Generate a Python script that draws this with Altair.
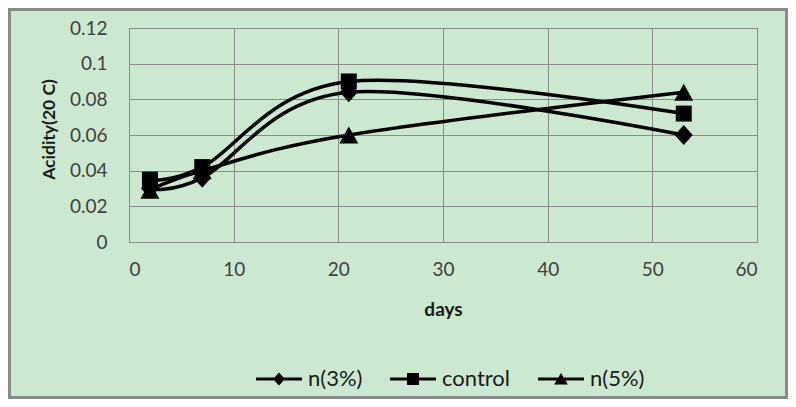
import altair as alt
import pandas as pd

# ---- data ----
days = [2, 7, 21, 53]
series_names = ["n(3%)", "control", "n(5%)"]
n3_values = [0.030, 0.036, 0.084, 0.060]
control_values = [0.035, 0.042, 0.090, 0.072]
n5_values = [0.029, 0.040, 0.060, 0.084]
x_ticks = [0, 10, 20, 30, 40, 50, 60]
y_ticks = [0, 0.02, 0.04, 0.06, 0.08, 0.1, 0.12]
y_labels_expr = "datum.value == 0 ? '0' : format(datum.value, '.2~f')"

rows = []
for name, vals in zip(series_names, [n3_values, control_values, n5_values]):
    for d, v in zip(days, vals):
        rows.append({"days": d, "acidity": v, "series": name})
df = pd.DataFrame(rows)

# ---- style ----
BG = "#cde8d0"
GRID = "#8c8c8c"
FONT = "Lato"
W, H = 628, 214
PAD = {"left": 121, "top": 20, "right": 31, "bottom": 157}

# plot markers (unit square paths)
marker_paths = [
    "M0,-0.25 L0.225,0 L0,0.25 L-0.225,0 Z",
    "M-0.2,-0.2 H0.2 V0.2 H-0.2 Z",
    "M0,-0.2125 L0.2375,0.2125 L-0.2375,0.2125 Z",
]
# legend symbols: a line bar with the marker on it
bar = "M-1,-0.065 H1 V0.065 H-1 Z "
legend_paths = [
    bar + "M0,-0.28 L0.26,0 L0,0.28 L-0.26,0 Z",
    bar + "M-0.26,-0.26 H0.26 V0.26 H-0.26 Z",
    bar + "M0,-0.26 L0.3,0.24 L-0.3,0.24 Z",
]

x_enc = alt.X(
    "days:Q",
    scale=alt.Scale(domain=[0, 60], nice=False),
    axis=alt.Axis(
        values=x_ticks, title="days", grid=True, ticks=False, tickSize=0,
        labelPadding=18, titleY=67, titleBaseline="middle",
    ),
)
y_enc = alt.Y(
    "acidity:Q",
    scale=alt.Scale(domain=[0, 0.12], nice=False),
    axis=alt.Axis(
        values=y_ticks, title="Acidity(20 C)", grid=True, ticks=False, tickSize=0,
        labelPadding=22, labelExpr=y_labels_expr,
        titleX=-80, titleY=101, titleAngle=270, titleBaseline="middle",
        titleAlign="center", titleFontSize=17.5,
    ),
)

border = alt.Chart(pd.DataFrame({"a": [0]})).mark_rect(
    fill=None, stroke="#8a8a8a", strokeWidth=3
).encode(
    x=alt.value(-PAD["left"] + 1.5),
    x2=alt.value(W + PAD["right"] - 1.5),
    y=alt.value(-PAD["top"] + 1.5),
    y2=alt.value(H + PAD["bottom"] - 1.5),
)

lines = alt.Chart(df).mark_line(
    interpolate="cardinal", color="black", strokeWidth=3.5
).encode(x=x_enc, y=y_enc, detail="series:N")

points = alt.Chart(df).mark_point(
    filled=True, color="black", strokeWidth=0, size=6400, opacity=1
).encode(
    x=x_enc,
    y=y_enc,
    shape=alt.Shape(
        "series:N",
        scale=alt.Scale(domain=series_names, range=marker_paths),
        legend=None,
    ),
)

# legend-only layer (no rows drawn; legend entries come from the scale domain)
legend_layer = alt.Chart(df).transform_filter("false").mark_point(
    filled=True, color="black", strokeWidth=0, opacity=1
).encode(
    x=x_enc,
    y=y_enc,
    shape=alt.Shape(
        "series:N",
        scale=alt.Scale(domain=series_names, range=legend_paths),
        legend=alt.Legend(
            title=None, orient="none", legendX=127, legendY=328,
            direction="horizontal", symbolSize=2116, symbolStrokeWidth=0,
            symbolFillColor="black",
            labelFontSize=22, labelFont=FONT, labelColor="#1a1a1a",
            labelOffset=6, columnPadding=27,
        ),
    ),
)

chart = (
    alt.layer(border, lines, points, legend_layer)
    .resolve_scale(shape="independent")
    .properties(
        width=W, height=H, background=BG,
        autosize=alt.AutoSizeParams(type="none"), padding=PAD,
    )
    .configure_view(stroke="black", strokeWidth=1, fill=BG)
    .configure_axis(
        gridColor=GRID, gridWidth=1, domainColor=GRID, domainWidth=1,
        labelFont=FONT, labelFontSize=19, labelColor="#404040",
        titleFont=FONT, titleFontSize=19, titleFontWeight="bold", titleColor="#1a1a1a",
    )
)

chart.save("out.html", embed_options={"renderer": "svg", "actions": False})
